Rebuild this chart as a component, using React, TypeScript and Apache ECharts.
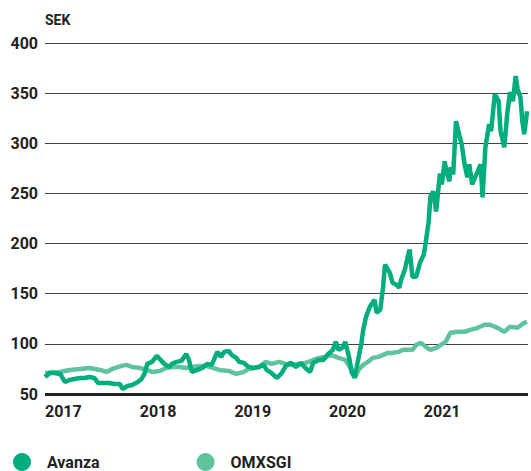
import React, { useEffect, useRef } from "react";
import * as echarts from "echarts";

// Time in decimal years, values in SEK
const avanzaYears = [
  2017.0, 2017.05, 2017.1, 2017.16, 2017.21, 2017.26, 2017.31, 2017.37, 2017.42, 2017.47,
  2017.52, 2017.56, 2017.63, 2017.68, 2017.73, 2017.79, 2017.82, 2017.87, 2017.92, 2017.98,
  2018.02, 2018.05, 2018.08, 2018.13, 2018.18, 2018.21, 2018.26, 2018.31, 2018.34, 2018.39,
  2018.44, 2018.49, 2018.52, 2018.55, 2018.61, 2018.66, 2018.71, 2018.76, 2018.82, 2018.86,
  2018.89, 2018.94, 2018.97, 2019.02, 2019.05, 2019.1, 2019.15, 2019.2, 2019.26, 2019.31,
  2019.34, 2019.39, 2019.45, 2019.5, 2019.55, 2019.6, 2019.65, 2019.7, 2019.75, 2019.8,
  2019.83, 2019.89, 2019.94, 2019.99, 2020.04, 2020.07, 2020.1, 2020.14, 2020.17, 2020.21,
  2020.24, 2020.27, 2020.3, 2020.34, 2020.36, 2020.39, 2020.43, 2020.48, 2020.5, 2020.54,
  2020.57, 2020.59, 2020.64, 2020.67, 2020.71, 2020.74, 2020.76, 2020.8, 2020.83, 2020.85,
  2020.88, 2020.92, 2020.96, 2021.0, 2021.02, 2021.05, 2021.07, 2021.1, 2021.13, 2021.17,
  2021.19, 2021.22, 2021.24, 2021.27, 2021.28, 2021.31, 2021.34, 2021.38, 2021.4, 2021.43,
  2021.46, 2021.48, 2021.51, 2021.54, 2021.57, 2021.6, 2021.62, 2021.65, 2021.69, 2021.71,
  2021.75, 2021.79, 2021.81, 2021.85, 2021.88, 2021.91, 2021.94, 2021.97, 2021.99, 2022.02,
  2022.04, 2022.06, 2022.09,
];
const avanzaValues = [
  67, 71, 71, 70, 62, 64, 65, 66, 66, 67,
  66, 61, 61, 61, 60, 60, 55, 58, 59, 62,
  65, 70, 80, 82, 88, 85, 80, 77, 80, 82,
  83, 90, 84, 72, 74, 76, 80, 79, 92, 87,
  92, 93, 89, 86, 82, 81, 77, 76, 77, 79,
  74, 71, 66, 71, 79, 81, 77, 81, 76, 72,
  81, 84, 84, 90, 94, 102, 94, 96, 102, 87,
  71, 67, 81, 100, 114, 127, 137, 144, 131, 134,
  157, 179, 171, 161, 159, 156, 164, 174, 187, 194,
  167, 167, 181, 189, 201, 221, 247, 252, 232, 270,
  259, 282, 272, 262, 276, 269, 322, 306, 299, 279,
  266, 279, 259, 266, 272, 279, 246, 296, 319, 312,
  349, 342, 312, 296, 329, 351, 342, 367, 354, 346,
  322, 309, 332,
];

const omxYears = [
  2017.0, 2017.16, 2017.26, 2017.37, 2017.47, 2017.58, 2017.65, 2017.71, 2017.81, 2017.86,
  2017.92, 2018.0, 2018.07, 2018.13, 2018.21, 2018.28, 2018.34, 2018.42, 2018.49, 2018.55,
  2018.63, 2018.7, 2018.84, 2018.94, 2019.02, 2019.1, 2019.15, 2019.26, 2019.33, 2019.39,
  2019.47, 2019.54, 2019.6, 2019.68, 2019.75, 2019.81, 2019.89, 2019.96, 2020.02, 2020.1,
  2020.17, 2020.22, 2020.27, 2020.31, 2020.36, 2020.41, 2020.46, 2020.52, 2020.57, 2020.62,
  2020.67, 2020.73, 2020.78, 2020.83, 2020.88, 2020.92, 2020.97, 2021.02, 2021.07, 2021.13,
  2021.18, 2021.23, 2021.28, 2021.36, 2021.43, 2021.49, 2021.57, 2021.64, 2021.7, 2021.78,
  2021.85, 2021.91, 2021.99, 2022.06, 2022.09,
];
const omxValues = [
  71, 72, 74, 75, 76, 74, 72, 75, 78, 79,
  77, 76, 74, 72, 73, 76, 77, 77, 76, 77,
  78, 78, 74, 73, 70, 72, 75, 77, 82, 80,
  82, 80, 79, 80, 81, 83, 86, 87, 89, 86,
  84, 77, 66, 74, 79, 82, 86, 87, 89, 91,
  91, 92, 94, 94, 94, 99, 101, 97, 94, 96,
  99, 102, 111, 112, 112, 114, 116, 119, 119, 116,
  112, 117, 116, 121, 122,
];

const seriesNames = ["Avanza", "OMXSGI"];
const yMin = 50;
const yMax = 400;
const yStep = 50;
const xMin = 2017;
const xMax = 2022.1;
const unitLabel = "SEK";

const AVANZA_COLOR = "#00AD7C";
const OMX_COLOR = "#5FC39D";
const FONT = "Roboto, 'Liberation Sans', Arial, sans-serif";

export default function App() {
  const ref = useRef<HTMLDivElement>(null);

  useEffect(() => {
    if (!ref.current) return;
    const chart = echarts.init(ref.current, undefined, { renderer: "svg" });
    const avanzaData = avanzaYears.map((x, i) => [x, avanzaValues[i]]);
    const omxData = omxYears.map((x, i) => [x, omxValues[i]]);

    chart.setOption({
      animation: false,
      backgroundColor: "#ffffff",
      textStyle: { fontFamily: FONT },
      grid: { left: 45, right: 0, top: 43, height: 351, containLabel: false },
      graphic: [
        {
          type: "text",
          left: 45,
          top: 13,
          style: {
            text: unitLabel,
            fontSize: 14,
            fontWeight: "bold",
            fontFamily: FONT,
            fill: "#222222",
          },
        },
      ],
      legend: {
        left: 13,
        top: 453,
        padding: 0,
        icon: "circle",
        itemWidth: 18,
        itemHeight: 18,
        itemGap: 97,
        data: seriesNames,
        textStyle: {
          fontSize: 16,
          fontWeight: "bold",
          color: "#222222",
          fontFamily: FONT,
          padding: [0, 0, 0, 11],
        },
      },
      xAxis: {
        type: "value",
        min: xMin,
        max: xMax,
        interval: 1,
        splitLine: { show: false },
        axisTick: { show: false },
        axisLine: { show: false },
        axisLabel: {
          align: "left",
          margin: 9,
          fontSize: 16,
          fontWeight: "bold",
          color: "#222222",
          fontFamily: FONT,
          formatter: (v: number) =>
            Number.isInteger(v) && v < 2022 ? String(v) : "",
        },
      },
      yAxis: {
        type: "value",
        min: yMin,
        max: yMax,
        interval: yStep,
        axisLine: { show: false },
        axisTick: { show: false },
        splitLine: { show: true, lineStyle: { color: "#444444", width: 1 } },
        axisLabel: {
          margin: 7,
          fontSize: 16,
          fontWeight: "bold",
          color: "#222222",
          fontFamily: FONT,
          padding: [4, 0, 0, 0],
        },
      },
      series: [
        {
          name: seriesNames[1],
          type: "line",
          data: omxData,
          showSymbol: false,
          symbol: "none",
          color: OMX_COLOR,
          lineStyle: { color: OMX_COLOR, width: 4.5 },
          z: 2,
        },
        {
          name: seriesNames[0],
          type: "line",
          data: avanzaData,
          showSymbol: false,
          symbol: "none",
          color: AVANZA_COLOR,
          lineStyle: { color: AVANZA_COLOR, width: 4.5 },
          z: 3,
          markLine: {
            silent: true,
            symbol: "none",
            label: { show: false },
            lineStyle: { color: "#222222", width: 3, type: "solid" },
            data: [{ yAxis: yMin }],
          },
        },
      ],
    });

    return () => chart.dispose();
  }, []);

  return (
    <div
      ref={ref}
      style={{ position: "absolute", left: 0, top: 0, width: 531, height: 471 }}
    />
  );
}
